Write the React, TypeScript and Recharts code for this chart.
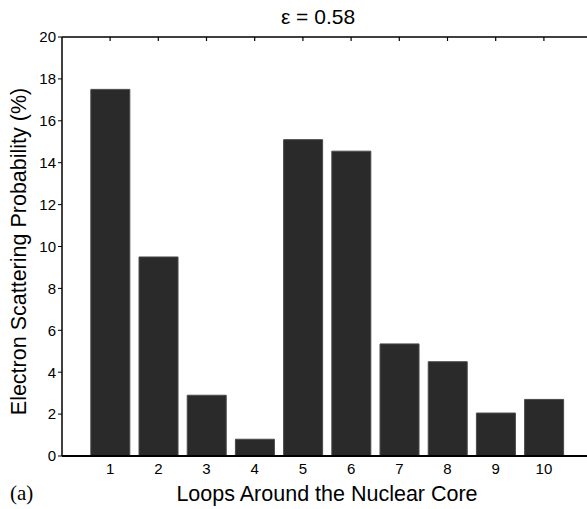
import { Bar, BarChart, XAxis, YAxis } from "recharts";

const loops = ["1", "2", "3", "4", "5", "6", "7", "8", "9", "10"];
const probability = [17.5, 9.5, 2.9, 0.8, 15.1, 14.55, 5.35, 4.5, 2.05, 2.7];
const yTicks = [0, 2, 4, 6, 8, 10, 12, 14, 16, 18, 20];

const data = loops.map((loop, i) => ({ loop, value: probability[i] }));

const FONT = "'Liberation Sans', Arial, Helvetica, sans-serif";

function TopTick(props: any) {
    const { x, y } = props;
    return <line x1={x} x2={x} y1={y} y2={y + 4} stroke="#000" strokeWidth={1.2} />;
}

function TitleLabel(props: any) {
    const { x, y, width, height } = props.viewBox;
    return (
        <text x={x + width / 2 - 9} y={y + height - 13} textAnchor="middle" fontSize={21} fontFamily={FONT} fill="#000">
            ε = 0.58
        </text>
    );
}

function BottomLabel(props: any) {
    const { x, y, width } = props.viewBox;
    return (
        <g>
            <text x={x + width / 2} y={y + 45} textAnchor="middle" fontSize={21.5} fontFamily={FONT} fill="#000">
                Loops Around the Nuclear Core
            </text>
            <text x={10} y={y + 44} fontSize={21} fontFamily="'Liberation Serif', 'Times New Roman', serif" fill="#000">
                (a)
            </text>
        </g>
    );
}

function LeftLabel(props: any) {
    const { y, height } = props.viewBox;
    const cx = 19;
    const cy = y + height / 2 + 5;
    return (
        <text
            x={cx}
            y={cy}
            transform={`rotate(-90 ${cx} ${cy})`}
            textAnchor="middle"
            dominantBaseline="central"
            fontSize={21.5}
            fontFamily={FONT}
            fill="#000"
        >
            Electron Scattering Probability (%)
        </text>
    );
}

export default function App() {
    return (
        <div
            style={{
                position: "fixed",
                left: 0,
                top: 0,
                width: 587,
                height: 509,
                overflow: "hidden",
                background: "#fff",
            }}
        >
            <BarChart
                width={600}
                height={509}
                data={data}
                margin={{ top: 35, right: 8, left: 0, bottom: 0 }}
                barCategoryGap="10%"
            >
                <XAxis
                    dataKey="loop"
                    height={53}
                    padding={{ left: 24, right: 24 }}
                    tickLine={false}
                    tickSize={0}
                    tickMargin={7}
                    axisLine={{ stroke: "#000", strokeWidth: 2 }}
                    tick={{ fontSize: 15, fill: "#000", fontFamily: FONT }}
                    interval={0}
                    label={<BottomLabel />}
                />
                <XAxis
                    xAxisId="top"
                    orientation="top"
                    dataKey="loop"
                    height={2}
                    padding={{ left: 24, right: 24 }}
                    tickLine={false}
                    tickSize={0}
                    tickMargin={0}
                    axisLine={{ stroke: "#000", strokeWidth: 1.5 }}
                    tick={<TopTick />}
                    interval={0}
                    label={<TitleLabel />}
                />
                <YAxis
                    width={62}
                    domain={[0, 20]}
                    ticks={yTicks}
                    interval={0}
                    tickSize={4}
                    tickMargin={2}
                    tickLine={{ stroke: "#000" }}
                    axisLine={{ stroke: "#000", strokeWidth: 1.5 }}
                    tick={{ fontSize: 15, fill: "#000", fontFamily: FONT }}
                    label={<LeftLabel />}
                />
                <Bar dataKey="value" fill="#2a2a2a" stroke="#4a4a4a" strokeWidth={1} isAnimationActive={false} />
            </BarChart>
        </div>
    );
}
